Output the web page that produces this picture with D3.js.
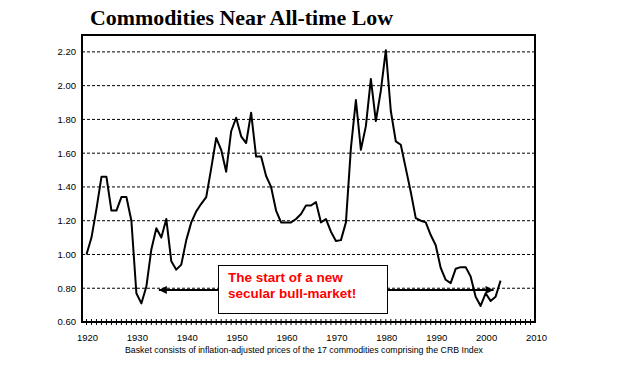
<!DOCTYPE html>
<html>
<head>
<meta charset="utf-8">
<script src="https://cdn.jsdelivr.net/npm/d3@7"></script>
<style>
  body { margin: 0; background: #fff; }
  svg { display: block; }
</style>
</head>
<body>
<div id="chart"></div>
<script>
// inflation-adjusted CRB basket, yearly
const years = d3.range(1920, 2004)
const values = [
  1.00, 1.10, 1.27, 1.46, 1.46, 1.26, 1.26, 1.34, 1.34, 1.20,
  0.77, 0.71, 0.81, 1.03, 1.155, 1.10, 1.21, 0.96, 0.91, 0.94,
  1.085, 1.19, 1.255, 1.30, 1.34, 1.51, 1.69, 1.62, 1.49, 1.73,
  1.81, 1.70, 1.66, 1.84, 1.58, 1.58, 1.465, 1.40, 1.26, 1.19,
  1.19, 1.19, 1.21, 1.24, 1.29, 1.29, 1.31, 1.19, 1.21, 1.135,
  1.08, 1.085, 1.19, 1.63, 1.915, 1.62, 1.76, 2.04, 1.79, 1.97,
  2.21, 1.85, 1.67, 1.65, 1.51, 1.37, 1.215, 1.20, 1.19, 1.115,
  1.055, 0.92, 0.85, 0.83, 0.915, 0.925, 0.925, 0.87, 0.75, 0.695,
  0.77, 0.725, 0.75, 0.845
]
const yTicks = [0.6, 0.8, 1.0, 1.2, 1.4, 1.6, 1.8, 2.0, 2.2]
const xLabels = [1920, 1930, 1940, 1950, 1960, 1970, 1980, 1990, 2000, 2010]
const minorTicks = d3.range(1920, 2010)
const noteLines = ['The start of a new', 'secular bull-market!']
const noteArrowTo = [1934.5, 2001.6]   // years the two arrows point at
const noteLevel = 0.79

const W = 625, H = 376
const m = { left: 82, right: 535, top: 35, bottom: 322 }

const svg = d3.select('#chart').append('svg')
  .attr('width', W).attr('height', H)

var x = d3.scaleLinear().domain([1919.1, 2009.9]).range([m.left, m.right])
var y = d3.scaleLinear().domain([0.6, 2.3]).range([m.bottom, m.top])

// title
svg.append('text')
  .attr('x', 241.5).attr('y', 25)
  .attr('text-anchor', 'middle')
  .attr('font-family', 'Liberation Serif')
  .attr('font-weight', 'bold')
  .attr('font-size', 22)
  .attr('textLength', 303).attr('lengthAdjust', 'spacingAndGlyphs')
  .text('Commodities Near All-time Low')

// dashed grid
svg.append('g')
  .selectAll('line')
  .data(yTicks.filter(d => d > 0.6))
  .enter().append('line')
  .attr('x1', m.left).attr('x2', m.right)
  .attr('y1', d => y(d)).attr('y2', d => y(d))
  .attr('stroke', '#000').attr('stroke-width', 1)
  .attr('stroke-dasharray', '3,2')

// y labels
svg.append('g')
  .selectAll('text')
  .data(yTicks)
  .enter().append('text')
  .attr('x', 76).attr('y', d => y(d))
  .attr('dy', '0.35em')
  .attr('text-anchor', 'end')
  .attr('font-family', 'Liberation Sans')
  .attr('font-size', 9.5)
  .text(d3.format('.2f'))

// the series
var line = d3.line()
  .x((d, i) => x(years[i]))
  .y(d => y(d))
svg.append('path')
  .datum(values)
  .attr('d', line)
  .attr('fill', 'none')
  .attr('stroke', '#000')
  .attr('stroke-width', 2)
  .attr('stroke-linejoin', 'round')

// bottom axis: a tick per year crossing the axis
svg.append('g')
  .selectAll('line')
  .data(minorTicks)
  .enter().append('line')
  .attr('x1', d => x(d)).attr('x2', d => x(d))
  .attr('y1', m.bottom - 3).attr('y2', m.bottom + 3)
  .attr('stroke', '#000').attr('stroke-width', 1)

svg.append('g')
  .selectAll('text')
  .data(xLabels)
  .enter().append('text')
  .attr('x', d => x(d) + 1).attr('y', 341)
  .attr('text-anchor', 'middle')
  .attr('font-family', 'Liberation Sans')
  .attr('font-size', 9.5)
  .text(d => d)

// frame
svg.append('rect')
  .attr('x', m.left).attr('y', m.top)
  .attr('width', m.right - m.left).attr('height', m.bottom - m.top)
  .attr('fill', 'none').attr('stroke', '#000').attr('stroke-width', 2)

// footnote
svg.append('text')
  .attr('x', 304).attr('y', 353)
  .attr('text-anchor', 'middle')
  .attr('font-family', 'Liberation Sans')
  .attr('font-size', 9)
  .attr('textLength', 358).attr('lengthAdjust', 'spacingAndGlyphs')
  .text('Basket consists of inflation-adjusted prices of the 17 commodities comprising the  CRB Index')

// annotation box + arrows
const box = { x: 218, y: 265, w: 169, h: 48 }
const ay = y(noteLevel)

svg.append('defs').append('marker')
  .attr('id', 'head')
  .attr('viewBox', '0 0 10 10')
  .attr('refX', 10).attr('refY', 5)
  .attr('markerUnits', 'userSpaceOnUse')
  .attr('markerWidth', 9).attr('markerHeight', 8)
  .attr('orient', 'auto')
  .append('path').attr('d', 'M0,0L10,5L0,10Z').attr('fill', '#000')

svg.append('line')
  .attr('x1', box.x).attr('x2', x(noteArrowTo[0]))
  .attr('y1', ay).attr('y2', ay)
  .attr('stroke', '#000').attr('stroke-width', 2)
  .attr('marker-end', 'url(#head)')
svg.append('line')
  .attr('x1', box.x + box.w).attr('x2', x(noteArrowTo[1]))
  .attr('y1', ay).attr('y2', ay)
  .attr('stroke', '#000').attr('stroke-width', 2)
  .attr('marker-end', 'url(#head)')

svg.append('rect')
  .attr('x', box.x + 0.5).attr('y', box.y + 0.5)
  .attr('width', box.w).attr('height', box.h)
  .attr('fill', '#fff').attr('stroke', '#000').attr('stroke-width', 1)

svg.append('g')
  .selectAll('text')
  .data(noteLines)
  .enter().append('text')
  .attr('x', 228).attr('y', (d, i) => 282 + i * 15.5)
  .attr('font-family', 'Liberation Sans')
  .attr('font-weight', 'bold')
  .attr('font-size', 13.5)
  .attr('fill', '#ff0000')
  .text(d => d)
</script>
</body>
</html>
